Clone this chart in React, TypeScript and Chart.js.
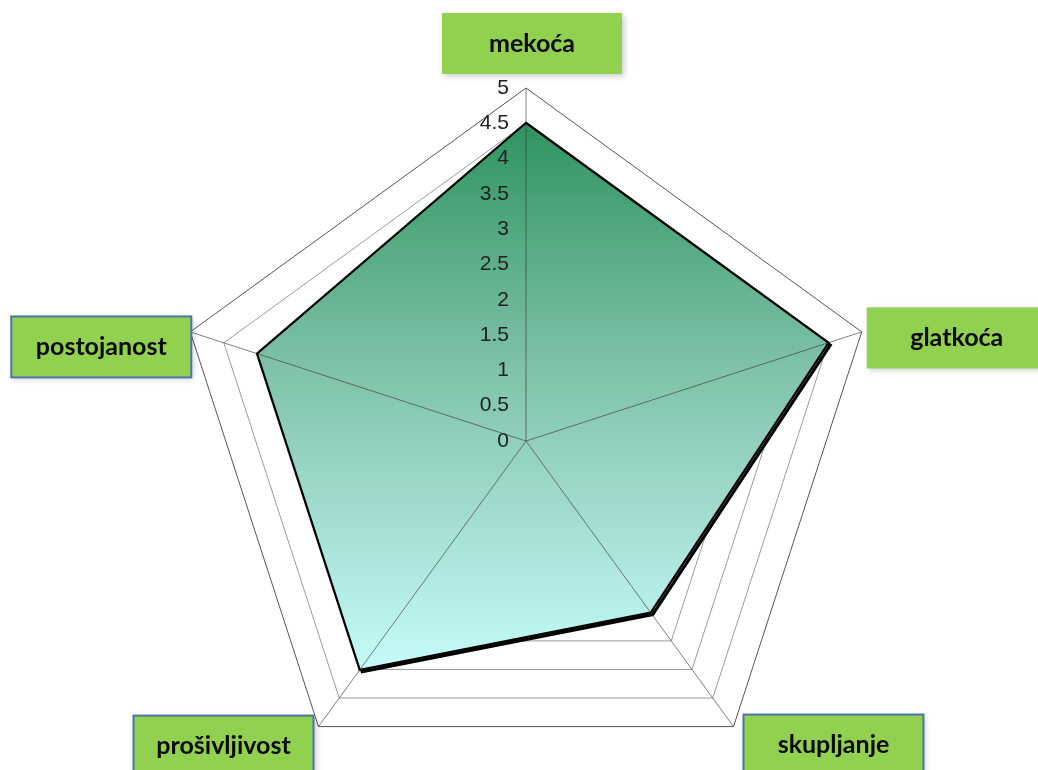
import React, { useEffect, useRef } from "react";
import { Chart, registerables } from "chart.js";

Chart.register(...registerables);

const categories = ["mekoća", "glatkoća", "skupljanje", "prošivljivost", "postojanost"];
const scores = [4.5, 4.5, 3, 4, 4];
const scaleMin = 0;
const scaleMax = 5;
const tickStep = 0.5;
const tickLabels = ["0", "0.5", "1", "1.5", "2", "2.5", "3", "3.5", "4", "4.5", "5"];

const BOX_W = 180;
const BOX_H = 61;
// placement of each category box relative to its outer vertex
const boxPlacement = [
  (vx: number, vy: number) => ({ x: vx + 6 - BOX_W / 2, y: vy - 14 - BOX_H }),
  (vx: number, vy: number) => ({ x: vx + 5, y: vy + 6 - BOX_H / 2 }),
  (vx: number, vy: number) => ({ x: vx + 10, y: vy - 12 }),
  (vx: number, vy: number) => ({ x: vx - 5 - BOX_W, y: vy - 11 }),
  (vx: number, vy: number) => ({ x: vx + 1 - BOX_W, y: vy + 15 - BOX_H / 2 }),
];
const boxBorders = [null, null, "#4A74AC", "#4A74AC", "#4A74AC"];

const radarDecor = {
  id: "radarDecor",
  beforeDatasetDraw(chart: any, args: any) {
    if (args.index === 2) {
      const ctx = chart.ctx;
      ctx.save();
      ctx.shadowColor = "rgba(0,0,0,1)";
      ctx.shadowBlur = 0;
      ctx.shadowOffsetX = 2.2;
      ctx.shadowOffsetY = 2.2;
    }
  },
  afterDatasetDraw(chart: any, args: any) {
    const ctx = chart.ctx;
    if (args.index === 2) {
      ctx.restore();
    }
    if (args.index === 1) {
      const r = chart.scales.r;
      ctx.save();
      ctx.strokeStyle = "rgba(60,60,60,0.65)";
      ctx.lineWidth = 1;
      for (let i = 0; i < categories.length; i++) {
        const p = r.getPointPosition(i, r.drawingArea);
        ctx.beginPath();
        ctx.moveTo(r.xCenter, r.yCenter);
        ctx.lineTo(p.x, p.y);
        ctx.stroke();
      }
      ctx.restore();
    }
  },
  afterDatasetsDraw(chart: any) {
    const ctx = chart.ctx;
    const r = chart.scales.r;
    ctx.save();
    ctx.font = "21px 'Liberation Sans', Arial, sans-serif";
    ctx.fillStyle = "#222";
    ctx.textAlign = "right";
    ctx.textBaseline = "middle";
    r.ticks.forEach((t: any, i: number) => {
      const y = r.yCenter - r.getDistanceFromCenterForValue(t.value);
      ctx.fillText(tickLabels[i] ?? String(t.value), r.xCenter - 17, y);
    });
    ctx.restore();
  },
  afterDraw(chart: any) {
    const ctx = chart.ctx;
    const r = chart.scales.r;
    const labels = chart.data.labels as string[];
    labels.forEach((lab, i) => {
      const v = r.getPointPosition(i, r.drawingArea);
      const pos = boxPlacement[i](v.x, v.y);
      ctx.save();
      ctx.shadowColor = "rgba(0,0,0,0.22)";
      ctx.shadowBlur = 6;
      ctx.shadowOffsetX = 2;
      ctx.shadowOffsetY = 2;
      ctx.fillStyle = "#92D050";
      ctx.fillRect(pos.x, pos.y, BOX_W, BOX_H);
      ctx.restore();
      const bc = boxBorders[i];
      if (bc) {
        ctx.save();
        ctx.strokeStyle = bc;
        ctx.lineWidth = 2;
        ctx.strokeRect(pos.x, pos.y, BOX_W, BOX_H);
        ctx.restore();
      }
      ctx.save();
      ctx.fillStyle = "#0a0a0a";
      ctx.font = "bold 25px Lato, 'Open Sans', sans-serif";
      ctx.textAlign = "center";
      ctx.textBaseline = "middle";
      ctx.fillText(lab, pos.x + BOX_W / 2, pos.y + BOX_H / 2);
      ctx.restore();
    });
  },
};

export default function App() {
  const canvasRef = useRef<HTMLCanvasElement | null>(null);

  useEffect(() => {
    if (!canvasRef.current) return;
    const fillGradient = (c: any) => {
      const chart = c.chart;
      const r = chart.scales?.r;
      if (!r || !chart.chartArea) return "rgba(100,200,170,1)";
      const top = r.yCenter - r.drawingArea * 0.9;
      const bottom = r.yCenter + r.drawingArea * 0.66;
      const g = chart.ctx.createLinearGradient(0, top, 0, bottom);
      g.addColorStop(0, "#2E9460");
      g.addColorStop(0.45, "#80C2AA");
      g.addColorStop(1, "#C6FCF9");
      return g;
    };
    const chart = new Chart(canvasRef.current, {
      type: "radar",
      data: {
        labels: categories,
        datasets: [
          {
            label: "line",
            data: scores,
            order: 0,
            fill: false,
            borderColor: "#000",
            borderWidth: 1.5,
            pointRadius: 0,
            pointHoverRadius: 0,
          },
          {
            label: "fill",
            data: scores,
            order: 1,
            fill: true,
            backgroundColor: fillGradient,
            borderWidth: 0,
            borderColor: "rgba(0,0,0,0)",
            pointRadius: 0,
            pointHoverRadius: 0,
          },
          {
            label: "shadow",
            data: scores,
            order: 2,
            fill: false,
            borderColor: "#000",
            borderWidth: 3,
            borderJoinStyle: "miter",
            pointRadius: 0,
            pointHoverRadius: 0,
          },
        ],
      },
      options: {
        responsive: false,
        animation: false,
        layout: { padding: { left: 173, right: 159, top: 88, bottom: 88 } },
        plugins: {
          legend: { display: false },
          tooltip: { enabled: false },
        },
        elements: { line: { tension: 0 } },
        scales: {
          r: {
            min: scaleMin,
            max: scaleMax,
            ticks: { stepSize: tickStep, display: false },
            pointLabels: { display: false },
            angleLines: { display: false },
            grid: {
              color: (c: any) => (c.tick && c.tick.value === scaleMax ? "#555" : "#9a9a9a"),
              lineWidth: 1,
            },
          },
        },
      },
      plugins: [radarDecor],
    });
    return () => chart.destroy();
  }, []);

  return (
    <div style={{ position: "fixed", left: 0, top: 0, width: 1038, height: 882, background: "#fff" }}>
      <canvas ref={canvasRef} width={1038} height={882} style={{ width: 1038, height: 882, display: "block" }} />
    </div>
  );
}
